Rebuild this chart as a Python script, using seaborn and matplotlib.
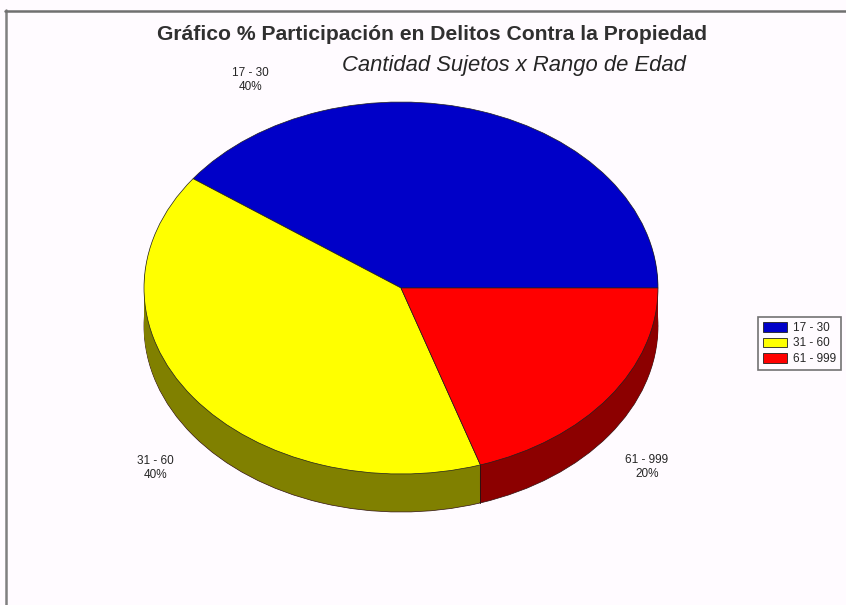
import matplotlib
matplotlib.use("Agg")
import matplotlib.pyplot as plt
import numpy as np
import seaborn as sns
from matplotlib.patches import Rectangle

# --------- datos
rangos = ['17 - 30', '31 - 60', '61 - 999']
participacion = [40, 40, 20]
etiquetas = ['40%', '40%', '20%']
colores = ['#0000c8', '#ffff00', '#ff0000']
colores_lado = ['#000064', '#808000', '#8c0000']

titulo = 'Gráfico % Participación en Delitos Contra la Propiedad'
subtitulo = 'Cantidad Sujetos x Rango de Edad'

W, H = 846, 605
fondo = '#fffbff'

sns.set_theme(style='white', rc={'figure.facecolor': fondo, 'axes.facecolor': 'none'})
plt.rcParams['font.family'] = ['Liberation Sans', 'DejaVu Sans']

fig = plt.figure(figsize=(W / 100, H / 100), dpi=100)

# eje en pixeles para que radio 1 = 257 px x 186 px, centro en (401, 288)
rx, ry = 257, 186
ax = fig.add_axes([(401 - rx * 1.5) / W, 1 - (288 + ry * 1.5) / H, rx * 3 / W, ry * 3 / H])

# --------- lado de la torta (capas oscuras hacia abajo)
prof = 38 / ry
n_capas = 39
for i in range(n_capas, 0, -1):
    borde = '#301010' if i == n_capas else 'none'
    ax.pie(participacion, colors=colores_lado, startangle=0, counterclock=True,
           center=(0, -prof * i / n_capas), radius=1, frame=True,
           wedgeprops={'linewidth': 0.5, 'edgecolor': borde})

# costura vertical entre el lado amarillo y el rojo
ang = np.deg2rad(360 * (1 - participacion[2] / sum(participacion)))
ax.plot([np.cos(ang)] * 2, [np.sin(ang), np.sin(ang) - prof], color='#301010', lw=0.7)

# --------- cara superior
ax.pie(participacion, colors=colores, startangle=0, counterclock=True,
       center=(0, 0), radius=1, frame=True,
       wedgeprops={'linewidth': 0.5, 'edgecolor': '#202020'})

ax.set_xlim(-1.5, 1.5)
ax.set_ylim(-1.5, 1.5)
ax.set_aspect('auto')
ax.axis('off')

# --------- textos
fig.text(432 / W, 1 - 35 / H, titulo, ha='center', va='center', fontsize=15.2,
         fontweight='bold', color='#303030')
fig.text(513.5 / W, 1 - 66 / H, subtitulo, ha='center', va='center', fontsize=15.8,
         fontstyle='italic', color='#252525')

pos_etiquetas = [(250, 80), (155, 468), (647, 467)]
for (x, y), rango, pct in zip(pos_etiquetas, rangos, etiquetas):
    fig.text(x / W, 1 - y / H, f'{rango}\n{pct}', ha='center', va='center',
             fontsize=8.5, color='#252525', linespacing=1.15)

# --------- leyenda
handles = [Rectangle((0, 0), 1, 1, facecolor=c, edgecolor='#202020', linewidth=0.6) for c in colores]
leg = fig.legend(handles, rangos, loc='center', bbox_to_anchor=(799.5 / W, 1 - 343.5 / H),
                 fontsize=8.5, frameon=True, fancybox=False, edgecolor='#505050',
                 facecolor=fondo, handlelength=2.0, handleheight=0.9,
                 labelspacing=0.3, handletextpad=0.5, borderpad=0.45)
leg.get_frame().set_linewidth(1.2)

# --------- marco de la imagen
fig.add_artist(plt.Line2D([6 / W, 6 / W], [0, 1 - 10 / H], color='#808080', lw=1.8))
fig.add_artist(plt.Line2D([5 / W, 1], [1 - 10.5 / H, 1 - 10.5 / H], color='#707070', lw=1.8))

fig.savefig('out.png', dpi=100, facecolor=fondo)
